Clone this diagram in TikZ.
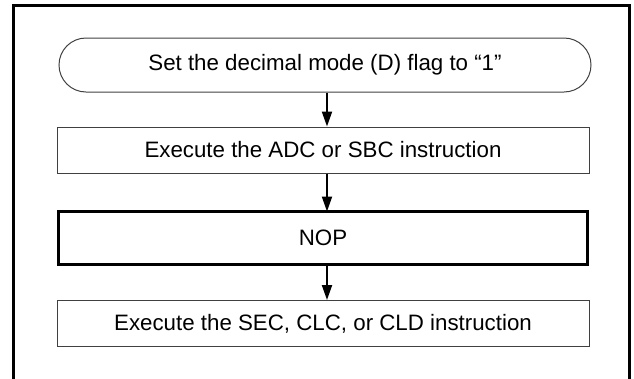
\documentclass[tikz,border=0pt]{standalone}
\usepackage{fontspec}
\setmainfont{Liberation Sans}
\usetikzlibrary{shapes.misc,arrows.meta}
\begin{document}
\begin{tikzpicture}[x=1pt,y=-1pt,
  font=\fontsize{22.3}{26}\selectfont,
  procbox/.style={draw=black!75,line width=1pt,minimum width=532pt,minimum height=46pt,inner sep=0pt},
  termbox/.style={rounded rectangle,draw=black!75,line width=1pt,minimum width=532pt,minimum height=54pt,inner sep=0pt},
  nopbox/.style={draw=black,line width=3pt,minimum width=529pt,minimum height=53pt,inner sep=0pt},
  arr/.style={draw=black,line width=2pt,-{Triangle[length=15pt,width=10pt]}}]
\useasboundingbox (0,0) rectangle (634,378);
\draw[line width=3pt] (13.5,380) -- (13.5,5.5) -- (629,5.5) -- (629,380);
\node[termbox] (t) at (325,65) {Set the decimal mode (D) flag to “1”};
\node[procbox] (b1) at (323,150) {Execute the ADC or SBC instruction};
\node[nopbox] (b2) at (323,238) {NOP};
\node[procbox] (b3) at (323,323.5) {Execute the SEC, CLC, or CLD instruction};
\draw[arr] ([xshift=2pt]t.south) -- ([xshift=4pt]b1.north);
\draw[arr] ([xshift=4pt]b1.south) -- ([xshift=4pt,yshift=-1.5pt]b2.north);
\draw[arr] ([xshift=4pt,yshift=1.5pt]b2.south) -- ([xshift=4pt]b3.north);
\end{tikzpicture}
\end{document}
